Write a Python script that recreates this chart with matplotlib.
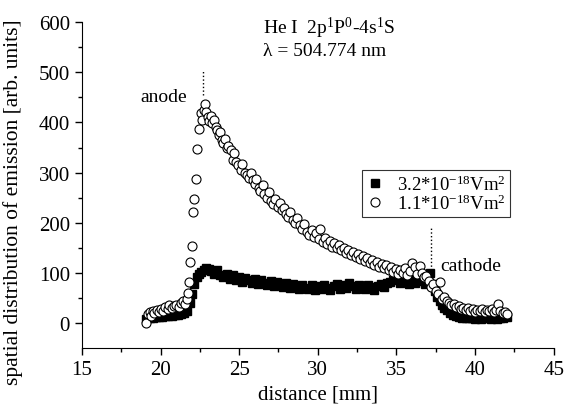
import matplotlib
matplotlib.use('Agg')
import matplotlib.pyplot as plt

plt.rcParams['font.family'] = ['Liberation Serif', 'DejaVu Serif']
plt.rcParams['mathtext.fontset'] = 'custom'
plt.rcParams['mathtext.rm'] = 'Liberation Serif'
plt.rcParams['mathtext.it'] = 'Liberation Serif:italic'
plt.rcParams['font.size'] = 14

# 3.2e-18 Vm^2 (filled squares)
sq_x = [19.1, 19.3, 19.5, 19.7, 19.9, 20.1, 20.3, 20.5, 20.7, 20.9, 21.1, 21.3, 21.5, 21.7,
        21.85, 22.0, 22.15, 22.3, 22.45, 22.6, 22.75, 22.9, 23.05, 23.2, 23.4, 23.6, 23.8,
        24.0, 24.2, 24.4, 24.6, 24.8, 25.0, 25.2, 25.4, 25.6, 25.8, 26.0, 26.2, 26.4, 26.6,
        26.8, 27.0, 27.2, 27.4, 27.6, 27.8, 28.0, 28.2, 28.4, 28.6, 28.8, 29.0, 29.2, 29.4,
        29.6, 29.8, 30.0, 30.2, 30.4, 30.6, 30.8, 31.0, 31.2, 31.4, 31.6, 31.8, 32.0, 32.2,
        32.4, 32.6, 32.8, 33.0, 33.2, 33.4, 33.6, 33.8, 34.0, 34.2, 34.4, 34.6, 34.8, 35.0,
        35.2, 35.4, 35.6, 35.8, 36.0, 36.2, 36.4, 36.6, 36.8, 37.0, 37.15, 37.3, 37.45, 37.6,
        37.75, 37.9, 38.05, 38.2, 38.4, 38.6, 38.8, 39.0, 39.2, 39.4, 39.6, 39.8, 40.0, 40.2,
        40.4, 40.6, 40.8, 41.0, 41.2, 41.4, 41.6, 41.8, 42.0]
sq_y = [8, 10, 11, 12, 12, 13, 14, 14, 15, 16, 17, 18, 20, 24,
        40, 58, 78, 92, 98, 102, 106, 110, 108, 104, 98, 106, 96,
        92, 98, 88, 96, 86, 92, 82, 90, 86, 80, 88, 78, 86, 80,
        76, 84, 74, 82, 78, 72, 80, 70, 78, 74, 68, 76, 70, 68,
        76, 66, 74, 68, 76, 70, 66, 74, 78, 68, 76, 70, 80, 74,
        68, 76, 70, 68, 76, 72, 66, 74, 78, 72, 80, 82, 86, 88,
        80, 88, 84, 78, 86, 80, 88, 84, 78, 90, 100, 78, 64, 52,
        44, 36, 30, 26, 20, 17, 14, 12, 11, 10, 10, 10, 9, 10,
        9, 10, 10, 9, 10, 9, 10, 11, 12]

# 1.1e-18 Vm^2 (open circles)
ci_x = [19.1, 19.2, 19.3, 19.4, 19.5, 19.6, 19.75, 19.9, 20.0, 20.15, 20.3, 20.45, 20.55,
        20.7, 20.85, 21.0, 21.15, 21.3, 21.45, 21.55, 21.65, 21.72, 21.78, 21.87, 21.97,
        22.08, 22.12, 22.23, 22.29, 22.42, 22.55, 22.65, 22.75, 22.83, 22.9, 23.0, 23.1,
        23.2, 23.3, 23.4, 23.5, 23.6, 23.7, 23.8, 23.9, 24.0, 24.1, 24.2, 24.3, 24.45, 24.6,
        24.7, 24.8, 24.95, 25.1, 25.2, 25.35, 25.5, 25.6, 25.75, 25.85, 26.0, 26.1, 26.25,
        26.35, 26.5, 26.6, 26.75, 26.9, 27.0, 27.15, 27.3, 27.45, 27.6, 27.7, 27.85, 28.0,
        28.1, 28.25, 28.4, 28.55, 28.7, 28.85, 29.0, 29.15, 29.3, 29.45, 29.6, 29.75, 29.9,
        30.05, 30.15, 30.3, 30.45, 30.6, 30.75, 30.9, 31.05, 31.2, 31.35, 31.5, 31.65, 31.8,
        31.95, 32.1, 32.25, 32.4, 32.55, 32.7, 32.85, 33.0, 33.15, 33.3, 33.45, 33.6, 33.75,
        33.9, 34.05, 34.2, 34.35, 34.5, 34.65, 34.8, 34.95, 35.1, 35.25, 35.4, 35.55, 35.7,
        35.85, 36.0, 36.15, 36.3, 36.5, 36.6, 36.75, 36.9, 37.05, 37.2, 37.35, 37.5, 37.65,
        37.76, 37.9, 38.05, 38.2, 38.35, 38.5, 38.65, 38.8, 38.95, 39.1, 39.25, 39.4, 39.55,
        39.7, 39.85, 40.0, 40.15, 40.3, 40.45, 40.6, 40.75, 40.9, 41.05, 41.2, 41.35, 41.47,
        41.6, 41.75, 41.9, 42.0]
ci_y = [1, 18, 22, 15, 24, 20, 26, 22, 28, 24, 32, 28, 36,
        30, 34, 36, 32, 40, 44, 38, 48, 60, 82, 121, 153,
        222, 247, 287, 347, 386, 418, 405, 425, 437, 420, 410, 402,
        412, 398, 405, 390, 384, 375, 380, 365, 360, 368, 350, 354, 345, 325,
        340, 322, 315, 305, 318, 300, 296, 290, 300, 285, 278, 288, 270,
        264, 275, 258, 250, 262, 244, 238, 248, 232, 240, 226, 230, 218,
        212, 222, 205, 200, 210, 195, 188, 198, 182, 176, 186, 172, 180,
        168, 188, 162, 170, 158, 164, 152, 160, 150, 156, 145, 150, 140,
        146, 136, 142, 132, 138, 128, 134, 124, 130, 120, 126, 116, 122,
        112, 118, 110, 116, 106, 112, 102, 108, 98, 106, 100, 110, 96,
        104, 120, 112, 98, 114, 100, 92, 94, 84, 72, 78, 64, 58,
        81, 48, 52, 44, 40, 36, 38, 32, 34, 28, 30, 26, 30,
        24, 28, 22, 26, 24, 28, 22, 26, 24, 28, 22, 26, 38,
        24, 20, 22, 18]

fig = plt.figure(figsize=(5.65, 4.06), dpi=100)
ax = fig.add_axes([0.145, 0.14, 0.835, 0.803])

ax.plot(sq_x, sq_y, 's', color='black', markersize=5.8, linestyle='none',
        label=r'3.2*10$^{-18}$Vm$^2$')
ax.plot(ci_x, ci_y, 'o', markerfacecolor='white', markeredgecolor='black',
        markeredgewidth=0.8, markersize=6.5, linestyle='none',
        label=r'1.1*10$^{-18}$Vm$^2$')

# electrode markers
ax.plot([22.7, 22.7], [455, 505], ':', color='black', linewidth=1)
ax.plot([37.2, 37.2], [105, 190], ':', color='black', linewidth=1)
ax.text(20.2, 452, 'anode', ha='center', va='center')
ax.text(39.75, 115, 'cathode', ha='center', va='center')

ax.text(26.5, 590, r'He I  2p$^1$P$^0$-4s$^1$S', ha='left', va='center')
ax.text(26.5, 544, 'λ = 504.774 nm', ha='left', va='center')

ax.set_xlim(15, 45)
ax.set_ylim(-50, 600)
ax.set_xticks([15, 20, 25, 30, 35, 40, 45])
ax.set_xticks([17.5, 22.5, 27.5, 32.5, 37.5, 42.5], minor=True)
ax.set_yticks([0, 100, 200, 300, 400, 500, 600])
ax.set_yticks([50, 150, 250, 350, 450, 550], minor=True)
ax.tick_params(which='major', direction='out', length=5, width=1, labelsize=15)
ax.tick_params(which='minor', direction='out', length=3, width=1)
ax.spines['top'].set_visible(False)
ax.spines['right'].set_visible(False)
ax.spines['left'].set_bounds(-50, 600)

ax.set_xlabel('distance [mm]', fontsize=15)
ax.set_ylabel('spatial distribution of emission [arb. units]', fontsize=15.5)
ax.yaxis.set_label_coords(-0.125, 0.45)

leg = ax.legend(loc='upper left', bbox_to_anchor=(0.593, 0.545), frameon=True,
                fancybox=False, edgecolor='black', handletextpad=0.7,
                borderpad=0.2, labelspacing=0.0, handlelength=1.0,
                borderaxespad=0, fontsize=13.5)
leg.get_frame().set_linewidth(0.8)

fig.savefig('out.png', dpi=100)
